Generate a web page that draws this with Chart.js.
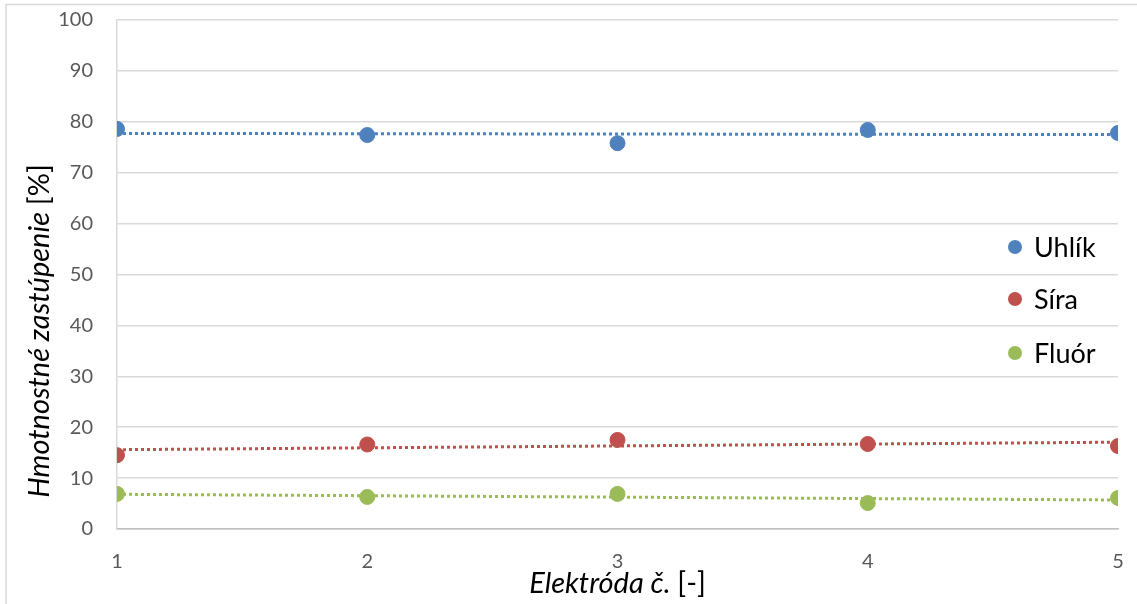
<!DOCTYPE html>
<html>
<head>
<meta charset="utf-8">
<script src="https://cdn.jsdelivr.net/npm/chart.js@4"></script>
<style>
  body { margin: 0; background: #fff; }
  #wrap { width: 1137px; height: 604px; }
</style>
</head>
<body>
<div id="wrap"><canvas id="chart" width="1137" height="604"></canvas></div>
<script>
/** DATA */
const electrodes = [1, 2, 3, 4, 5];
const uhlik = [78.6, 77.4, 75.8, 78.4, 77.8];
const sira = [14.5, 16.6, 17.5, 16.7, 16.3];
const fluor = [6.9, 6.3, 6.9, 5.1, 6.1];
const yTicks = [0, 10, 20, 30, 40, 50, 60, 70, 80, 90, 100];

const seriesNames = ['Uhlík', 'Síra', 'Fluór'];
const seriesColors = ['#4f81bd', '#c0504d', '#9bbb59'];
const FONT = 'Lato, "Open Sans", sans-serif';

function toPoints(values) {
    return electrodes.map((x, i) => ({ x: x, y: values[i] }));
}

// least squares trendline, like the Excel linear trendline
function trendPoints(values) {
    const n = electrodes.length;
    const mx = electrodes.reduce((a, b) => a + b, 0) / n;
    const my = values.reduce((a, b) => a + b, 0) / n;
    let sxy = 0, sxx = 0;
    for (let i = 0; i < n; i++) {
        sxy += (electrodes[i] - mx) * (values[i] - my);
        sxx += (electrodes[i] - mx) * (electrodes[i] - mx);
    }
    const slope = sxy / sxx;
    const first = electrodes[0], last = electrodes[n - 1];
    return [
        { x: first, y: my + slope * (first - mx) },
        { x: last, y: my + slope * (last - mx) }
    ];
}

const allSeries = [uhlik, sira, fluor];
const datasets = [];

allSeries.forEach((values, i) => {
    datasets.push({
        type: 'line',
        label: seriesNames[i] + ' trend',
        data: trendPoints(values),
        borderColor: seriesColors[i],
        borderWidth: 3,
        borderDash: [3, 3],
        borderCapStyle: 'butt',
        pointRadius: 0,
        fill: false,
        order: 2
    });
});
allSeries.forEach((values, i) => {
    datasets.push({
        type: 'scatter',
        label: seriesNames[i],
        data: toPoints(values),
        backgroundColor: seriesColors[i],
        borderColor: seriesColors[i],
        pointRadius: 7.5,
        pointHoverRadius: 7.5,
        order: 1
    });
});

/** CUSTOM DRAWING: border, axis titles, legend */
function drawMixed(ctx, italicText, normalText, size, cx, cy) {
    ctx.font = 'italic ' + size + 'px ' + FONT;
    const w1 = ctx.measureText(italicText).width;
    ctx.font = size + 'px ' + FONT;
    const w2 = ctx.measureText(normalText).width;
    const start = cx - (w1 + w2) / 2;
    ctx.textAlign = 'left';
    ctx.font = 'italic ' + size + 'px ' + FONT;
    ctx.fillText(italicText, start, cy);
    ctx.font = size + 'px ' + FONT;
    ctx.fillText(normalText, start + w1, cy);
}

const decorPlugin = {
    id: 'decor',
    beforeDraw(chart) {
        const ctx = chart.ctx;
        ctx.save();
        ctx.strokeStyle = '#d9d9d9';
        ctx.lineWidth = 1.5;
        ctx.beginPath();
        ctx.moveTo(6, 604);
        ctx.lineTo(6, 4.5);
        ctx.lineTo(1137, 4.5);
        ctx.stroke();
        ctx.restore();
    },
    afterDraw(chart) {
        const ctx = chart.ctx;
        const area = chart.chartArea;
        ctx.save();
        ctx.fillStyle = '#000';
        ctx.textBaseline = 'middle';

        // x title
        drawMixed(ctx, 'Elektróda č. ', '[-]', 29, (area.left + area.right) / 2, 584);

        // y title rotated
        ctx.translate(40, 331);
        ctx.rotate(-Math.PI / 2);
        drawMixed(ctx, 'Hmotnostné zastúpenie ', '[%]', 29, 0, 0);
        ctx.setTransform(1, 0, 0, 1, 0, 0);

        // legend
        const legendY = [247, 299, 353];
        ctx.font = '27px ' + FONT;
        seriesNames.forEach((name, i) => {
            ctx.fillStyle = seriesColors[i];
            ctx.beginPath();
            ctx.arc(1015, legendY[i], 7, 0, Math.PI * 2);
            ctx.fill();
            ctx.fillStyle = '#000';
            ctx.fillText(name, 1034, legendY[i] + 1);
        });
        ctx.restore();
    }
};

new Chart(document.getElementById('chart'), {
    data: { datasets: datasets },
    options: {
        responsive: false,
        animation: false,
        layout: { padding: { top: 20, right: 19, left: 0, bottom: 0 } },
        plugins: {
            legend: { display: false },
            tooltip: { enabled: false }
        },
        scales: {
            x: {
                type: 'linear',
                min: 1,
                max: 5,
                afterBuildTicks(scale) {
                    scale.ticks = electrodes.map(v => ({ value: v }));
                },
                afterFit(scale) {
                    scale.height = 75;
                    scale.paddingLeft = 0;
                    scale.paddingRight = 0;
                },
                grid: { display: false, drawTicks: false },
                border: { display: true, color: '#bfbfbf', width: 1.5 },
                ticks: {
                    padding: 21,
                    color: '#595959',
                    font: { family: FONT, size: 20 }
                }
            },
            y: {
                min: 0,
                max: 100,
                afterBuildTicks(scale) {
                    scale.ticks = yTicks.map(v => ({ value: v }));
                },
                afterFit(scale) {
                    scale.width = 117;
                    scale.paddingTop = 0;
                    scale.paddingBottom = 0;
                },
                grid: { color: '#d9d9d9', lineWidth: 1.5, drawTicks: false },
                border: { display: true, color: '#d9d9d9', width: 1.5 },
                ticks: {
                    padding: 24,
                    color: '#595959',
                    font: { family: FONT, size: 20 }
                }
            }
        }
    },
    plugins: [decorPlugin]
});
</script>
</body>
</html>
